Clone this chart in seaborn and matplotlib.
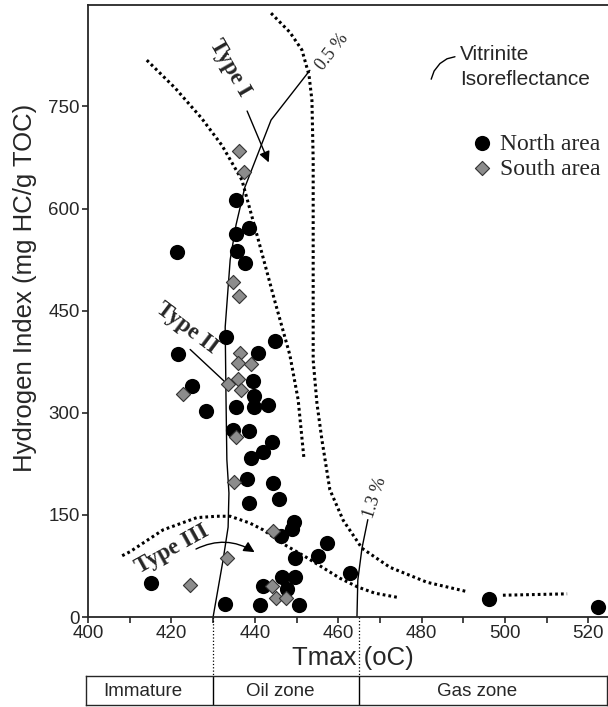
import matplotlib
matplotlib.use('Agg')
import matplotlib.pyplot as plt
import seaborn as sns

# North area samples
north_tmax = [435.4, 438.6, 435.4, 421.4, 435.8, 437.6, 433.0, 444.8, 421.7, 440.8,
              439.6, 424.9, 439.8, 428.3, 435.5, 439.8, 443.2, 434.7, 438.6, 444.1,
              441.9, 439.0, 438.2, 444.3, 438.6, 445.9, 449.5, 448.9, 446.2, 457.2,
              455.2, 449.6, 462.9, 415.0, 446.5, 449.6, 442.0, 447.7, 432.9, 441.2,
              450.7, 496.2, 522.4]
north_hi = [613, 572, 563, 536, 537, 520, 411, 405, 386, 388,
            346, 339, 325, 303, 308, 308, 312, 275, 273, 257,
            243, 234, 202, 197, 167, 173, 139, 129, 119, 108,
            90, 87, 65, 50, 59, 59, 45, 41, 19, 18,
            18, 26, 15]

# South area samples
south_tmax = [436.2, 437.4, 434.7, 436.3, 436.5, 436.0, 439.1, 436.0, 433.5, 436.8,
              422.9, 435.6, 435.1, 444.3, 433.3, 424.5, 444.1, 445.0, 447.6]
south_hi = [684, 654, 492, 472, 388, 373, 371, 350, 343, 333,
            328, 264, 198, 127, 87, 47, 45, 28, 28]

# kerogen type boundaries (dotted)
type1_left_t = [414.1, 420.9, 427.2, 432.1, 436.9, 440.8, 444.8, 448.4, 450.4, 451.8]
type1_left_hi = [818, 777, 733, 693, 642, 555, 464, 385, 319, 232]
type1_right_t = [443.9, 448.4, 451.3, 453.0, 453.7, 454.0, 454.0, 454.0, 454.9, 456.1,
                 458.0, 461.2, 465.7, 472.4, 481.3, 491.1]
type1_right_hi = [887, 859, 833, 796, 759, 671, 539, 377, 314, 260,
                  187, 142, 101, 73, 51, 37]
type1_tail_t = [499.5, 514.9]
type1_tail_hi = [32, 34]
type3_t = [408.2, 410.1, 418.0, 426.1, 430.9, 434.1, 438.8, 442.0, 447.2, 452.0,
           460.4, 464.7, 468.8, 474.1]
type3_hi = [90, 96, 128, 146, 148, 148, 138, 128, 106, 89,
            57, 44, 35, 29]

# vitrinite isoreflectance lines
ro05_t = [453.2, 443.9, 437.6, 435.5, 434.1, 432.9, 433.1, 433.3, 433.8, 433.6, 432.4, 430.0]
ro05_hi = [803, 730, 631, 576, 525, 426, 319, 231, 182, 132, 84, 0]
ro13_t = [467.1, 465.7, 464.7, 464.5]
ro13_hi = [143, 101, 54, 0]
key_arc_t = [482.3, 483.0, 484.4, 486.1, 488.0]
key_arc_hi = [790, 802, 813, 820, 823]

# maturity zones
zone_names = ['Immature', 'Oil zone', 'Gas zone']
zone_edges = [399.5, 430, 465, 524.5]

sns.set_style('ticks')
plt.rcParams['font.family'] = ['Liberation Sans', 'DejaVu Sans']
serif = 'Liberation Serif'

fig = plt.figure(figsize=(6.08, 7.07), dpi=100)
ax = fig.add_axes([88 / 608, 90 / 707, 520 / 608, 612 / 707])

dot = dict(color='black', lw=2.2, linestyle=(0, (0.9, 1.0)), sort=False, estimator=None,
           legend=False, ax=ax)
sns.lineplot(x=type1_left_t, y=type1_left_hi, **dot)
sns.lineplot(x=type1_right_t, y=type1_right_hi, **dot)
sns.lineplot(x=type1_tail_t, y=type1_tail_hi, **dot)
sns.lineplot(x=type3_t, y=type3_hi, **dot)
thin = dict(color='black', lw=1.0, sort=False, estimator=None, legend=False, ax=ax)
sns.lineplot(x=ro05_t, y=ro05_hi, **thin)
sns.lineplot(x=ro13_t, y=ro13_hi, **thin)
sns.lineplot(x=[424.5, 433.6], y=[393, 341], **thin)
sns.lineplot(x=key_arc_t, y=key_arc_hi, **thin)

sns.scatterplot(x=north_tmax, y=north_hi, marker='o', s=120, color='black',
                edgecolor='black', linewidth=0, label='North area', ax=ax, zorder=3)
sns.scatterplot(x=south_tmax, y=south_hi, marker='D', s=52, color='#8c8c8c',
                edgecolor='#333333', linewidth=0.8, label='South area', ax=ax, zorder=4)

ax.annotate('', xy=(443.6, 664), xytext=(437.9, 747),
            arrowprops=dict(arrowstyle='-|>', color='black', lw=1, mutation_scale=16))
ax.annotate('', xy=(440.5, 93), xytext=(425.3, 98),
            arrowprops=dict(arrowstyle='-|>', color='black', lw=1, mutation_scale=16,
                            connectionstyle='arc3,rad=-0.3'))

bold = dict(family=serif, fontweight='bold', fontsize=16.5, ha='center', va='center')
ax.text(434.1, 806, 'Type I', rotation=-60, **bold)
ax.text(423.7, 424, 'Type II', rotation=-37, **bold)
ax.text(420.3, 100, 'Type III', rotation=29, **bold)
ax.text(458.5, 830, '0.5 %', rotation=52, family=serif, fontsize=13, ha='center', va='center')
ax.text(468.8, 176, '1.3 %', rotation=72, family=serif, fontsize=13, ha='center', va='center')
ax.text(489.2, 826, 'Vitrinite', fontsize=15, ha='left', va='center')
ax.text(489.2, 789, 'Isoreflectance', fontsize=15, ha='left', va='center')

ax.set_xlim(400, 524.7)
ax.set_ylim(0, 899)
ax.set_xticks(range(400, 521, 20))
ax.set_xticks(range(410, 521, 20), minor=True)
ax.set_yticks(range(0, 751, 150))
ax.tick_params(which='both', direction='out', length=4, width=1.2, labelsize=13.5, pad=2)
for side in ['left', 'bottom', 'top']:
    ax.spines[side].set_linewidth(1.3)
ax.spines['right'].set_visible(False)

ax.set_xlabel('Tmax (oC)', fontsize=18.5)
ax.xaxis.label.set_va('center')
ax.xaxis.set_label_coords(0.51, -0.067)
ax.set_ylabel('Hydrogen Index (mg HC/g TOC)', fontsize=18.5)
ax.yaxis.label.set_va('center')
ax.yaxis.set_label_coords(-0.121, 0.538)

ax.legend(loc='upper left', bbox_to_anchor=(473 / 608, 574 / 707), bbox_transform=fig.transFigure,
          frameon=False, prop={'family': serif, 'size': 17}, handlelength=0.8,
          handletextpad=0.35, labelspacing=0.15, borderpad=0, borderaxespad=0)

# dotted links from the axis down to the zone table
for edge in zone_edges[1:3]:
    ax.plot([edge, edge], [0, -87], color='black', lw=0.9, linestyle=':', clip_on=False)

tab = fig.add_axes([86 / 608, 2 / 707, 521 / 608, 29 / 707])
tab.set_xlim(zone_edges[0], zone_edges[-1])
tab.set_ylim(0, 1)
tab.set_xticks([])
tab.set_yticks([])
for side in tab.spines.values():
    side.set_linewidth(1.0)
for edge in zone_edges[1:3]:
    tab.axvline(edge, color='black', lw=1.0)
for name, lo, hi in zip(zone_names, zone_edges[:-1], zone_edges[1:]):
    tab.text((lo + hi) / 2 - 1.5, 0.48, name, fontsize=13.5, ha='center', va='center')

fig.savefig('out.png', dpi=100)
